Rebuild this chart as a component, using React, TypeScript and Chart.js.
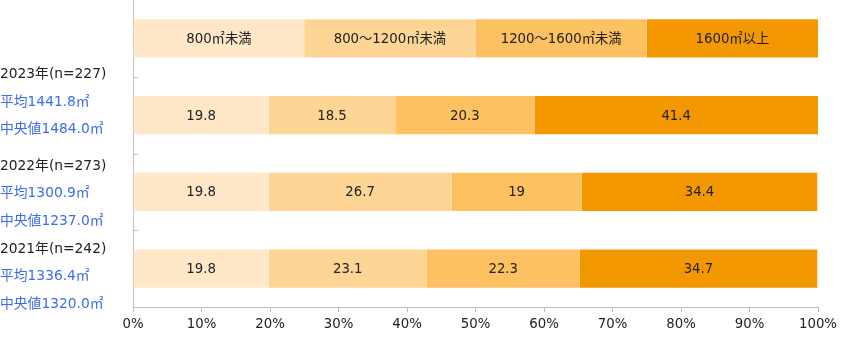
import React, { useEffect, useRef } from "react";
import { Chart, registerables } from "chart.js";

Chart.register(...registerables);

// ---- data ----
const rowKeys = ["凡例", "2023年", "2022年", "2021年"];
const seriesNames = ["800㎡未満", "800～1200㎡未満", "1200～1600㎡未満", "1600㎡以上"];
const legendShare = [25, 25, 25, 25];
const under800 = [19.8, 19.8, 19.8];
const from800to1200 = [18.5, 26.7, 23.1];
const from1200to1600 = [20.3, 19, 22.3];
const over1600 = [41.4, 34.4, 34.7];
const yearLabels = ["2023年(n=227)", "2022年(n=273)", "2021年(n=242)"];
const meanLabels = ["平均1441.8㎡", "平均1300.9㎡", "平均1336.4㎡"];
const medianLabels = ["中央値1484.0㎡", "中央値1237.0㎡", "中央値1320.0㎡"];
const xTicks = [0, 10, 20, 30, 40, 50, 60, 70, 80, 90, 100];

// ---- style ----
const COLORS = ["#FFE8C8", "#FDD696", "#FDC162", "#F39800"];
const FONT = '"DejaVu Sans", "Noto Sans CJK JP", sans-serif';
const TEXT = "#222222";
const BLUE = "#3C6CF2";
const AXIS = "#BFBFBF";
const FS = 13.3;
const LFS = 13.8;
const LINE_GAP = 27.5;
const LABEL_SHIFT = [-13, 2, 8];

const seriesValues = [under800, from800to1200, from1200to1600, over1600];

const overlayPlugin = {
  id: "overlay",
  afterDatasetsDraw(chart: any) {
    const ctx = chart.ctx;
    ctx.save();
    ctx.font = `${FS}px ${FONT}`;
    ctx.textAlign = "center";
    ctx.textBaseline = "middle";
    ctx.fillStyle = TEXT;
    chart.data.datasets.forEach((ds: any, i: number) => {
      const meta = chart.getDatasetMeta(i);
      meta.data.forEach((el: any, j: number) => {
        const cx = (el.x + el.base) / 2;
        const text = j === 0 ? ds.label : String(ds.data[j]);
        ctx.fillText(text, cx, el.y + 1);
      });
    });
    ctx.restore();
  },
  afterDraw(chart: any) {
    const ctx = chart.ctx;
    const y = chart.scales.y;
    const area = chart.chartArea;
    ctx.save();
    ctx.strokeStyle = AXIS;
    ctx.lineWidth = 1;
    for (let i = 0; i < rowKeys.length - 1; i++) {
      const py = Math.round((y.getPixelForValue(i) + y.getPixelForValue(i + 1)) / 2) + 0.5;
      ctx.beginPath();
      ctx.moveTo(area.left, py);
      ctx.lineTo(area.left + 5, py);
      ctx.stroke();
    }
    ctx.font = `${LFS}px ${FONT}`;
    ctx.textAlign = "left";
    ctx.textBaseline = "middle";
    yearLabels.forEach((yl, r) => {
      const cy = y.getPixelForValue(r + 1) + LABEL_SHIFT[r];
      const lines = [yl, meanLabels[r], medianLabels[r]];
      lines.forEach((t, k) => {
        ctx.fillStyle = k === 0 ? TEXT : BLUE;
        ctx.fillText(t, 0, cy + (k - 1) * LINE_GAP);
      });
    });
    ctx.restore();
  },
};

export default function App() {
  const ref = useRef<HTMLCanvasElement | null>(null);
  useEffect(() => {
    if (!ref.current) return;
    const chart = new Chart(ref.current, {
      type: "bar",
      data: {
        labels: rowKeys,
        datasets: seriesNames.map((name, i) => ({
          label: name,
          data: [legendShare[i], ...seriesValues[i]],
          backgroundColor: COLORS[i],
          borderWidth: 0,
          barPercentage: 1,
          categoryPercentage: 0.5,
        })),
      },
      options: {
        indexAxis: "y",
        animation: false,
        responsive: true,
        maintainAspectRatio: false,
        layout: { padding: { top: 0, right: 32, left: 0, bottom: 0 } },
        plugins: { legend: { display: false }, tooltip: { enabled: false } },
        scales: {
          x: {
            stacked: true,
            min: 0,
            max: 100,
            afterBuildTicks: (s: any) => {
              s.ticks = xTicks.map((v) => ({ value: v }));
            },
            afterFit: (s: any) => {
              s.height = 33;
            },
            ticks: {
              callback: (v: any) => `${v}%`,
              font: { family: FONT, size: FS },
              color: TEXT,
              padding: 5,
              maxRotation: 0,
              autoSkip: false,
            },
            grid: { drawOnChartArea: false, tickLength: 5, color: AXIS },
            border: { color: AXIS },
          },
          y: {
            stacked: true,
            ticks: { display: false },
            grid: { drawOnChartArea: false, drawTicks: false },
            border: { color: AXIS },
            afterFit: (s: any) => {
              s.width = 133;
            },
          },
        },
      } as any,
      plugins: [overlayPlugin],
    });
    return () => chart.destroy();
  }, []);
  return (
    <div style={{ position: "fixed", left: 0, top: 0, width: 850, height: 340, background: "#fff" }}>
      <canvas ref={ref} />
    </div>
  );
}
